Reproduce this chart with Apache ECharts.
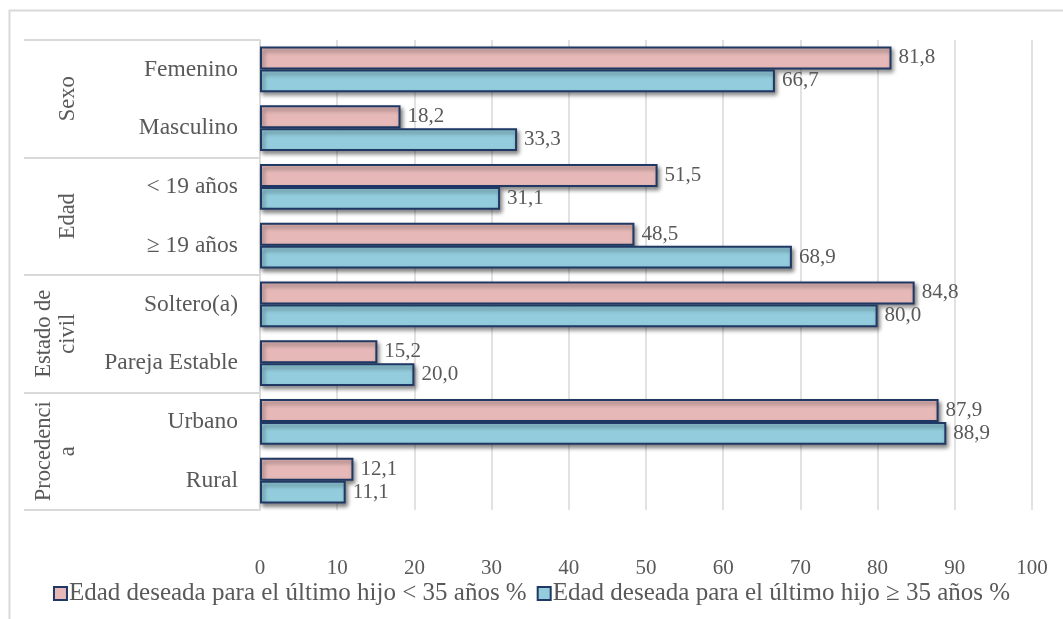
<!DOCTYPE html>
<html lang="es">
<head>
  <meta charset="UTF-8">
  <title>Edad deseada para el último hijo</title>
  <script src="https://cdn.jsdelivr.net/npm/echarts@6/dist/echarts.min.js"></script>
  <style>
    html,body{margin:0;padding:0;background:#fff;}
    #main{width:1063px;height:619px;}
  </style>
</head>
<body>
  <div id="main"></div>
  <script>
    // categorias y grupos
    var categorias = ['Femenino', 'Masculino', '< 19 años', '≥ 19 años', 'Soltero(a)', 'Pareja Estable', 'Urbano', 'Rural'];
    var grupos = ['Sexo', 'Edad', 'Estado de\ncivil', 'Procedenci\na'];
    // valores (%)
    var menor35 = [81.8, 18.2, 51.5, 48.5, 84.8, 15.2, 87.9, 12.1];
    var mayor35 = [66.7, 33.3, 31.1, 68.9, 80.0, 20.0, 88.9, 11.1];
    var nombres = ['Edad deseada para el último hijo < 35 años %', 'Edad deseada para el último hijo ≥ 35 años %'];

    var fuente = 'Liberation Serif';
    var gris = '#595959';
    var linea = '#D9D9D9';
    var borde = '#1F3864';

    function etiqueta(p){
      return p.value.toFixed(1).replace('.', ',');
    }
    function serie(nombre, datos, color){
      return {
        name: nombre,
        type: 'bar',
        data: datos,
        barGap: '0%',
        barCategoryGap: '22%',
        itemStyle: {
          color: color,
          borderColor: borde,
          borderWidth: 2,
          shadowColor: 'rgba(0,0,0,0.45)',
          shadowBlur: 4,
          shadowOffsetX: 2,
          shadowOffsetY: 3
        },
        label: {
          show: true,
          position: 'right',
          distance: 7,
          color: gris,
          fontFamily: fuente,
          fontSize: 21,
          formatter: etiqueta
        }
      };
    }

    var myChart = echarts.init(document.getElementById('main'));
    var option = {
      backgroundColor: '#fff',
      animation: false,
      graphic: [{
        type: 'rect',
        shape: {x: 9.5, y: 10.5, width: 1100, height: 700},
        style: {fill: 'none', stroke: linea, lineWidth: 2},
        silent: true
      }],
      grid: {left: 260, right: 31, top: 40, bottom: 109},
      legend: {
        data: nombres,
        left: 'center',
        top: 576,
        icon: 'rect',
        itemWidth: 13,
        itemHeight: 13,
        itemGap: 10,
        textStyle: {color: gris, fontFamily: fuente, fontSize: 25, padding: [0, 0, 0, -3]}
      },
      xAxis: {
        type: 'value',
        min: 0,
        max: 100,
        interval: 10,
        axisLine: {show: false},
        axisTick: {show: false},
        splitLine: {lineStyle: {color: linea, width: 1.5}},
        axisLabel: {color: gris, fontFamily: fuente, fontSize: 21, margin: 48}
      },
      yAxis: [{
        type: 'category',
        data: categorias,
        inverse: true,
        axisLine: {lineStyle: {color: linea, width: 1.5}},
        axisTick: {show: false},
        axisLabel: {interval: 0, color: gris, fontFamily: fuente, fontSize: 23.5, margin: 22}
      }, {
        type: 'category',
        data: grupos,
        inverse: true,
        position: 'left',
        offset: 0,
        axisLine: {show: false},
        axisTick: {show: true, interval: 0, length: 236, lineStyle: {color: linea, width: 2}},
        axisLabel: {interval: 0, hideOverlap: false, color: gris, fontFamily: fuente, fontSize: 22.5, rotate: 90, margin: 180, lineHeight: 24}
      }],
      series: [
        serie(nombres[0], menor35, '#E6B9B8'),
        serie(nombres[1], mayor35, '#93CDDD')
      ]
    };
    myChart.setOption(option);
  </script>
</body>
</html>
